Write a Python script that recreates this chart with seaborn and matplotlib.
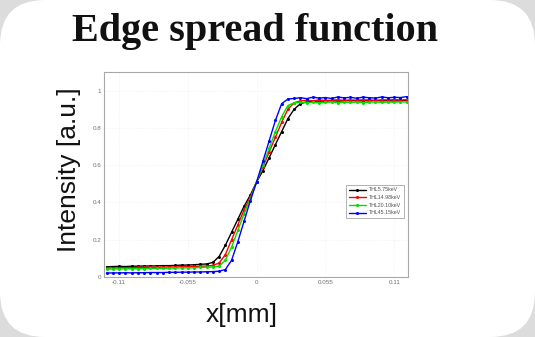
import numpy as np
import pandas as pd
import matplotlib
matplotlib.use("Agg")
import matplotlib.pyplot as plt
from matplotlib.patches import FancyBboxPatch
import seaborn as sns

# Sample positions along the edge profile [mm]
x_mm = [-0.120, -0.115, -0.110, -0.105, -0.100, -0.095, -0.090, -0.085, -0.080, -0.075,
        -0.070, -0.065, -0.060, -0.055, -0.050, -0.045, -0.040, -0.035, -0.030, -0.025,
        -0.020, -0.015, -0.010, -0.005, 0.000, 0.005, 0.010, 0.015, 0.020, 0.025,
        0.030, 0.035, 0.040, 0.045, 0.050, 0.055, 0.060, 0.065, 0.070, 0.075,
        0.080, 0.085, 0.090, 0.095, 0.100, 0.105, 0.110, 0.115, 0.120]

thl_5_75 = [0.055, 0.056, 0.057, 0.056, 0.058, 0.058, 0.059, 0.059, 0.060, 0.061,
            0.061, 0.062, 0.064, 0.064, 0.066, 0.068, 0.070, 0.078, 0.110, 0.170,
            0.240, 0.310, 0.380, 0.440, 0.510, 0.570, 0.640, 0.710, 0.780, 0.850,
            0.900, 0.930, 0.940, 0.942, 0.945, 0.943, 0.946, 0.944, 0.945, 0.947,
            0.944, 0.946, 0.945, 0.947, 0.945, 0.946, 0.944, 0.946, 0.947]

thl_14_98 = [0.048, 0.049, 0.049, 0.050, 0.050, 0.051, 0.051, 0.052, 0.052, 0.053,
             0.054, 0.054, 0.055, 0.056, 0.057, 0.058, 0.059, 0.062, 0.075, 0.120,
             0.200, 0.280, 0.360, 0.430, 0.510, 0.590, 0.670, 0.750, 0.830, 0.900,
             0.935, 0.945, 0.948, 0.946, 0.950, 0.947, 0.949, 0.951, 0.948, 0.950,
             0.949, 0.951, 0.950, 0.948, 0.951, 0.950, 0.952, 0.950, 0.951]

thl_20_10 = [0.042, 0.043, 0.043, 0.044, 0.044, 0.045, 0.045, 0.046, 0.046, 0.047,
             0.047, 0.048, 0.049, 0.049, 0.050, 0.051, 0.052, 0.054, 0.058, 0.090,
             0.160, 0.250, 0.340, 0.420, 0.510, 0.600, 0.690, 0.780, 0.860, 0.920,
             0.935, 0.937, 0.936, 0.938, 0.935, 0.937, 0.939, 0.936, 0.938, 0.937,
             0.939, 0.936, 0.938, 0.940, 0.937, 0.939, 0.938, 0.940, 0.939]

thl_45_15 = [0.021, 0.022, 0.022, 0.023, 0.022, 0.023, 0.023, 0.024, 0.024, 0.024,
             0.025, 0.025, 0.026, 0.026, 0.027, 0.027, 0.028, 0.029, 0.031, 0.040,
             0.090, 0.190, 0.300, 0.410, 0.510, 0.620, 0.730, 0.840, 0.930, 0.955,
             0.958, 0.962, 0.957, 0.965, 0.960, 0.963, 0.958, 0.966, 0.961, 0.964,
             0.959, 0.965, 0.962, 0.960, 0.966, 0.962, 0.964, 0.963, 0.968]

series_labels = ["THL5.75keV", "THL14.98keV", "THL20.10keV", "THL45.15keV"]
series_values = [thl_5_75, thl_14_98, thl_20_10, thl_45_15]
series_colors = ["#000000", "#ff0000", "#00e000", "#0000ff"]

x_ticks = [-0.11, -0.055, 0.0, 0.055, 0.11]
x_tick_labels = ["-0.11", "-0.055", "0", "0.055", "0.11"]
y_ticks = [0, 0.2, 0.4, 0.6, 0.8, 1.0]
y_tick_labels = ["0", "0.2", "0.4", "0.6", "0.8", "1"]

df = pd.concat(
    [pd.DataFrame({"x": x_mm, "intensity": vals, "threshold": lab})
     for lab, vals in zip(series_labels, series_values)],
    ignore_index=True,
)

sns.set_theme(style="white")
plt.rcParams["font.family"] = ["Liberation Sans", "DejaVu Sans"]

W, H = 535, 337
fig = plt.figure(figsize=(W / 100, H / 100), dpi=100, facecolor="#dcdcdc")

# Rounded white card behind everything
bg = fig.add_axes([0, 0, 1, 1], zorder=0)
bg.set_xlim(0, W)
bg.set_ylim(0, H)
bg.axis("off")
bg.add_patch(FancyBboxPatch((45, 45), W - 90, H - 90,
                            boxstyle="round,pad=45", facecolor="white",
                            edgecolor="none"))

ax = fig.add_axes([104 / W, 1 - 277 / H, 304 / W, 205 / H], zorder=1)
ax.set_facecolor("white")

sns.lineplot(data=df, x="x", y="intensity", hue="threshold",
             palette=series_colors, marker="o", markersize=2.2,
             markeredgewidth=0, linewidth=1.0, ax=ax, legend=True)

ax.set_xlim(-0.122, 0.121)
ax.set_ylim(0, 1.10)
ax.set_xticks(x_ticks)
ax.set_xticklabels(x_tick_labels)
ax.set_yticks(y_ticks)
ax.set_yticklabels(y_tick_labels)
ax.tick_params(axis="both", which="both", direction="in", length=2,
               width=0.5, color="#b0b0b0", labelsize=4.5,
               labelcolor="#707070", pad=2)
ax.grid(True, linestyle=":", linewidth=0.5, color="#ececec")
ax.set_xlabel("")
ax.set_ylabel("")
for sp in ax.spines.values():
    sp.set_visible(True)
    sp.set_color("#a8a8a8")
    sp.set_linewidth(0.8)

leg = ax.legend(loc="lower right", bbox_to_anchor=(0.995, 0.275),
                fontsize=3.8, frameon=True, fancybox=False,
                edgecolor="#909090", handlelength=3.2, borderpad=0.5,
                labelspacing=0.5, handletextpad=0.6)
leg.get_frame().set_linewidth(0.6)
for t in leg.get_texts():
    t.set_color("#505050")

fig.text(255 / W, 1 - 32 / H, "Edge spread function", ha="center", va="center",
         fontsize=29, fontweight="bold", family=["Liberation Serif", "DejaVu Serif"],
         color="#111111")
fig.text(69 / W, 1 - 170 / H, "Intensity [a.u.]", rotation=90, ha="center",
         va="center", fontsize=19, color="#111111")
fig.text(242 / W, 1 - 315 / H, "x[mm]", ha="center", va="center",
         fontsize=19, color="#111111")

fig.savefig("out.png", dpi=100, facecolor=fig.get_facecolor())
